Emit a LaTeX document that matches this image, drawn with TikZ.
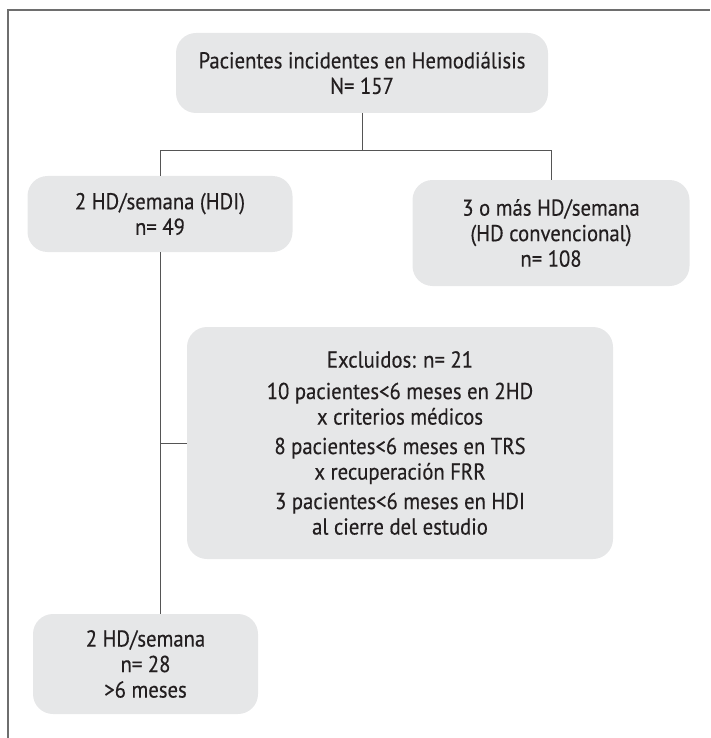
\documentclass[tikz,border=0pt]{standalone}
\usepackage{fontspec}
\setmainfont{PT Sans}[FakeStretch=0.9,FakeBold=0.35]
\usepackage{tikz}
\usetikzlibrary{positioning,calc}
\definecolor{boxG}{HTML}{E6E7E8}
\definecolor{lineG}{HTML}{555555}
\definecolor{txtG}{HTML}{231F20}
\begin{document}
\begin{tikzpicture}[x=1pt,y=-1pt,
  every node/.style={font=\fontsize{23}{25.5}\selectfont,text=txtG},
  stage/.style={fill=boxG,rounded corners=20pt,align=center,inner sep=0pt},
  link/.style={draw=lineG,line width=0.9pt},
  frame/.style={draw=lineG!85,line width=1.3pt}]
  \useasboundingbox (0,0) rectangle (710,738);
  \draw[frame] (8,738) -- (8,10) -- (710,10);
  % boxes
  \node[stage,minimum width=372pt,minimum height=80pt] (top) at (362,73)
    {Pacientes incidentes en Hemodiálisis\\N= 157};
  \node[stage,minimum width=265pt,minimum height=76pt] (hdi) at (160,214)
    {2 HD/semana (HDI)\\n= 49};
  \node[stage,minimum width=277pt,minimum height=106pt] (conv) at (551,233)
    {3 o más HD/semana\\(HD convencional)\\n= 108};
  \node[stage,minimum width=426pt,minimum height=232pt] (excl) at (400,443)
    {Excluidos: n= 21\\[6pt]
     10 pacientes<6 meses en 2HD\\x criterios médicos\\[4pt]
     8 pacientes<6 meses en TRS\\x recuperación FRR\\[4pt]
     3 pacientes<6 meses en HDI\\al cierre del estudio};
  \node[stage,minimum width=225pt,minimum height=100pt] (fin) at (145.5,664)
    {2 HD/semana\\n= 28\\>6 meses};
  % connectors
  \coordinate (split) at (362,150);
  \draw[link] (top.south) -- (split);
  \draw[link] (split) -| (hdi.north);
  \draw[link] (split) -| (conv.north);
  \draw[link] (hdi.south) -- (hdi.south |- fin.north);
  \draw[link] (hdi.south |- excl.west) -- (excl.west);
\end{tikzpicture}
\end{document}
